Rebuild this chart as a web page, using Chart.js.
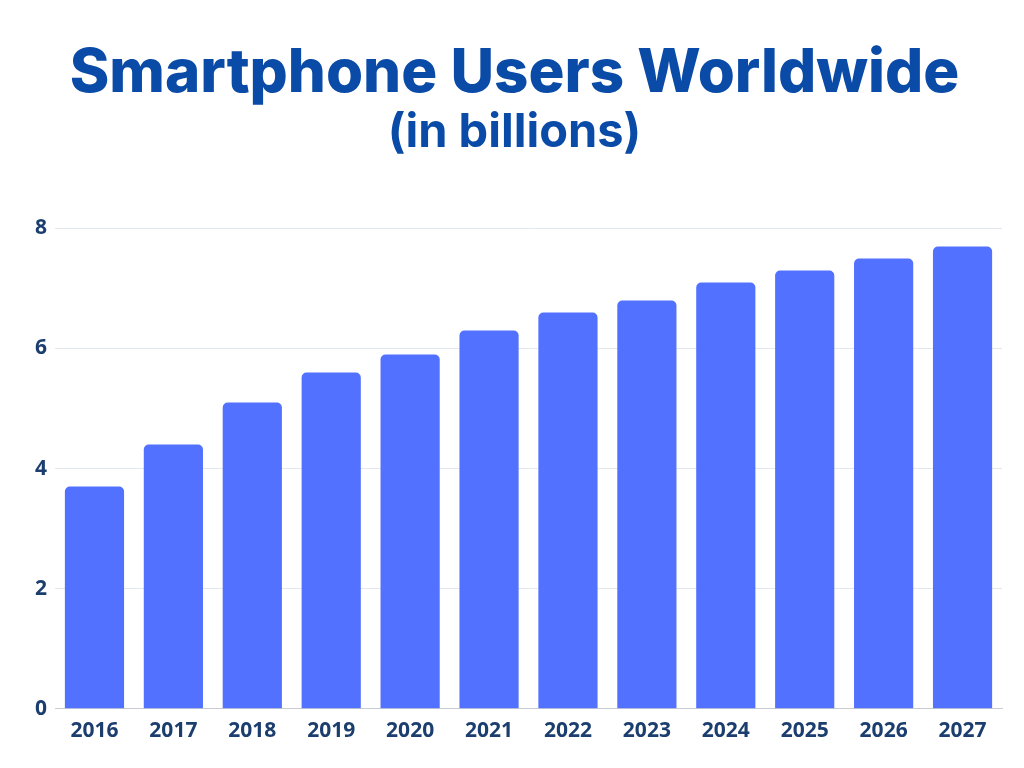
<!DOCTYPE html>
<html>
<head>
<meta charset="utf-8">
<script src="https://cdn.jsdelivr.net/npm/chart.js@4/dist/chart.umd.min.js"></script>
<style>
  html, body { margin: 0; padding: 0; background: #ffffff; }
  #wrap { width: 1024px; height: 768px; position: relative; }
</style>
</head>
<body>
<div id="wrap"><canvas id="c" width="1024" height="768"></canvas></div>
<script>
const categories = ["2016", "2017", "2018", "2019", "2020", "2021", "2022", "2023", "2024", "2025", "2026", "2027"];
const users = [3.7, 4.4, 5.1, 5.6, 5.9, 6.3, 6.6, 6.8, 7.1, 7.3, 7.5, 7.7];
const yTicks = [0, 2, 4, 6, 8];
const titleText = "Smartphone Users Worldwide";
const subtitleText = "(in billions)";

new Chart(document.getElementById('c'), {
  type: 'bar',
  data: {
    labels: categories,
    datasets: [{
      data: users,
      backgroundColor: '#5271ff',
      borderRadius: { topLeft: 5, topRight: 5, bottomLeft: 0, bottomRight: 0 },
      borderSkipped: 'bottom',
      categoryPercentage: 1.0,
      barPercentage: 0.75
    }]
  },
  options: {
    responsive: false,
    animation: false,
    layout: { padding: { left: 27, right: 22, top: 42, bottom: 14 } },
    plugins: {
      legend: { display: false },
      tooltip: { enabled: false },
      title: {
        display: true,
        text: titleText,
        color: '#0a4ba8',
        font: { family: 'Inter', size: 60, weight: '800', lineHeight: 1.05 },
        padding: { top: 0, bottom: 0 }
      },
      subtitle: {
        display: true,
        text: subtitleText,
        color: '#0a4ba8',
        font: { family: 'Inter', size: 47, weight: '700' },
        padding: { top: 0, bottom: 67 }
      }
    },
    scales: {
      x: {
        grid: { display: false, drawTicks: false },
        border: { display: true, color: '#c8ccd2', width: 1 },
        ticks: {
          color: '#1b3e6f',
          font: { family: 'Open Sans', size: 21, weight: '700' },
          padding: 10
        }
      },
      y: {
        min: 0,
        max: 8,
        afterBuildTicks: (axis) => { axis.ticks = yTicks.map(v => ({ value: v })); },
        grid: { color: '#e3e8ee', lineWidth: 1, drawTicks: false },
        border: { display: false },
        ticks: {
          color: '#1b3e6f',
          font: { family: 'Open Sans', size: 21, weight: '700' },
          padding: 8
        }
      }
    }
  }
});
</script>
</body>
</html>
